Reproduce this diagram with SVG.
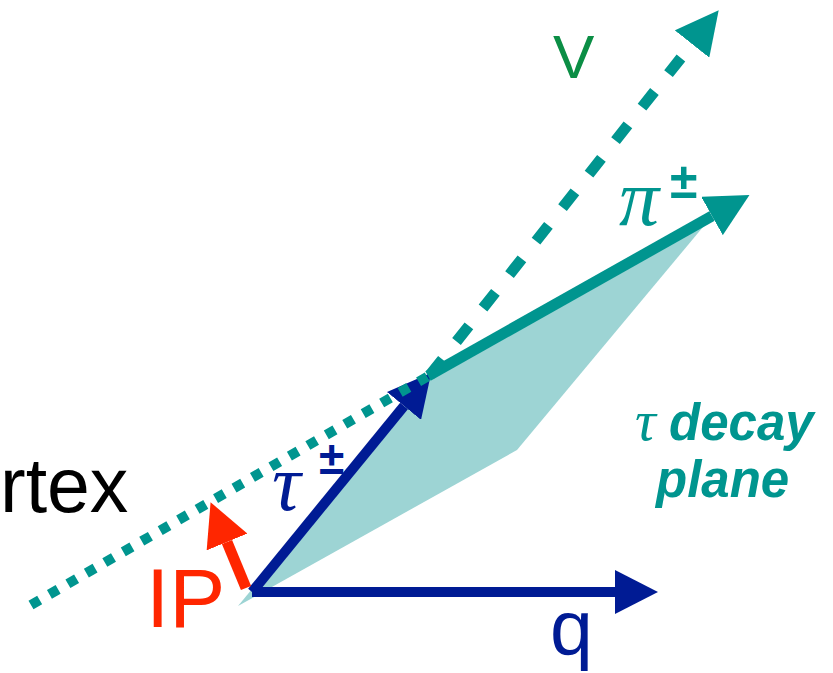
<svg xmlns="http://www.w3.org/2000/svg" width="833" height="673" viewBox="0 0 833 673">
<style>
.teal{stroke:#00958f;fill:none}
.blue{stroke:#001b94;fill:none}
.red{stroke:#ff2600;fill:none}
.sans{font-family:"Liberation Sans",Arial,sans-serif}
.greek{font-family:"Liberation Serif","Times New Roman",serif;font-style:italic}
.pm{font-family:"Liberation Sans",Arial,sans-serif;font-weight:bold}
</style>
<defs>
<marker id="hTeal" viewBox="0 0 43 44" refX="0" refY="22" markerWidth="43" markerHeight="44" markerUnits="userSpaceOnUse" orient="auto"><path d="M0,0 L43,22 L0,44 z" fill="#00958f"/></marker>
<marker id="hBlue" viewBox="0 0 43 44" refX="0" refY="22" markerWidth="43" markerHeight="44" markerUnits="userSpaceOnUse" orient="auto"><path d="M0,0 L43,22 L0,44 z" fill="#001b94"/></marker>
<marker id="hRed" viewBox="0 0 43 44" refX="0" refY="22" markerWidth="43" markerHeight="44" markerUnits="userSpaceOnUse" orient="auto"><path d="M0,0 L43,22 L0,44 z" fill="#ff2600"/></marker>
</defs>
<rect width="833" height="673" fill="#ffffff"/>
<g id="decay-plane">
<polygon points="238,606 430,375 713,215 517,450" fill="#9dd4d4"/>
</g>
<g id="connectors">
<line id="q-arrow" class="blue" x1="252" y1="592" x2="615" y2="592" stroke-width="10" marker-end="url(#hBlue)"/>
<line id="tau-arrow" class="blue" x1="252" y1="592" x2="404" y2="406" stroke-width="10" marker-end="url(#hBlue)"/>
<line id="ip-arrow" class="red" x1="246" y1="588" x2="227" y2="542" stroke-width="11" marker-end="url(#hRed)"/>
<line id="pi-arrow" class="teal" x1="428" y1="376" x2="712" y2="216" stroke-width="11" marker-end="url(#hTeal)"/>
<line id="vertex-line" class="teal" x1="31" y1="605" x2="432" y2="374" stroke-width="10" stroke-dasharray="10 11.3"/>
<line id="v-arrow" class="teal" x1="430" y1="375" x2="692" y2="44" stroke-width="11" stroke-dasharray="20 22.7" marker-end="url(#hTeal)"/>
</g>
<g id="label-v"><text class="sans" x="553" y="78" font-size="62" fill="#0b8e45">V</text></g>
<g id="label-pi"><text x="619" y="225" fill="#00958f"><tspan class="greek" font-size="80">π</tspan><tspan class="pm" x="670" y="198" font-size="50">±</tspan></text></g>
<g id="label-tau"><text x="272" y="510" fill="#001b94"><tspan class="greek" font-size="80">τ</tspan><tspan class="pm" x="319" y="474" font-size="46">±</tspan></text></g>
<g id="label-vertex"><text class="sans" x="0" y="512" font-size="77" fill="#000000">rtex</text></g>
<g id="label-ip"><text class="sans" x="146" y="627" font-size="84" fill="#ff2600">IP</text></g>
<g id="label-q"><text class="sans" x="550" y="655" font-size="77" fill="#001b94">q</text></g>
<g id="label-plane" fill="#00958f">
<text x="635" y="440"><tspan class="greek" font-size="58">τ</tspan><tspan class="sans" x="669" font-size="51" font-weight="bold" font-style="italic">decay</tspan></text>
<text class="sans" x="656" y="497" font-size="51" font-weight="bold" font-style="italic">plane</text>
</g>
</svg>
